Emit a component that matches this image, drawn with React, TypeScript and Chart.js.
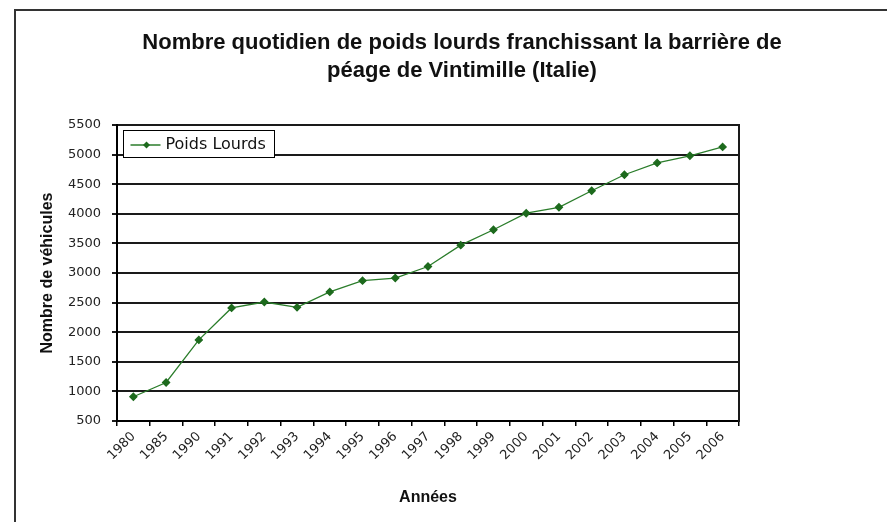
import { useEffect, useRef } from "react";
import { Chart, registerables } from "chart.js";

Chart.register(...registerables);

const titleLines = [
  "Nombre quotidien de poids lourds franchissant la barrière de",
  "péage de Vintimille (Italie)",
];
const years = [
  "1980", "1985", "1990", "1991", "1992", "1993", "1994", "1995", "1996", "1997",
  "1998", "1999", "2000", "2001", "2002", "2003", "2004", "2005", "2006",
];
const poidsLourds = [
  910, 1150, 1870, 2410, 2510, 2420, 2680, 2870, 2915, 3110,
  3470, 3730, 4010, 4110, 4390, 4660, 4860, 4980, 5130,
];
const seriesLabel = "Poids Lourds";
const yTitle = "Nombre de véhicules";
const xTitle = "Années";
const yMin = 500;
const yMax = 5500;
const yStep = 500;

const LINE_COLOR = "#2b7d2b";
const POINT_COLOR = "#1d6a1d";
const TICK_FONT = { family: "'DejaVu Sans', sans-serif", size: 13 };
const AXIS_TITLE_FONT = { family: "'Liberation Sans', Arial, sans-serif", size: 16, weight: "bold" as const };

const decor = {
  id: "decor",
  beforeDraw(chart: any) {
    const { ctx, width, height } = chart;
    ctx.save();
    ctx.fillStyle = "#fff";
    ctx.fillRect(0, 0, width, height);
    ctx.strokeStyle = "#333";
    ctx.lineWidth = 2;
    ctx.strokeRect(15, 10, width + 40, height + 40);
    ctx.restore();
  },
  afterDraw(chart: any) {
    const { ctx, chartArea: a } = chart;
    ctx.save();
    // right border of plot area
    ctx.strokeStyle = "#1a1a1a";
    ctx.lineWidth = 2;
    ctx.beginPath();
    ctx.moveTo(a.right, a.top - 1);
    ctx.lineTo(a.right, a.bottom + 1);
    ctx.stroke();

    // title
    ctx.fillStyle = "#111";
    ctx.font = "bold 22px 'Liberation Sans', Arial, sans-serif";
    ctx.textAlign = "center";
    ctx.textBaseline = "alphabetic";
    titleLines.forEach((t, i) => ctx.fillText(t, 462, 49 + i * 28));

    // legend inside plot area
    const ds = chart.data.datasets[0];
    ctx.font = "16px 'DejaVu Sans', sans-serif";
    const tw = ctx.measureText(ds.label).width;
    const x0 = Math.round(a.left + 6) + 0.5;
    const y0 = Math.round(a.top + 5) + 0.5;
    const h = 27;
    const w = Math.round(42 + tw + 9);
    ctx.fillStyle = "#fff";
    ctx.fillRect(x0, y0, w, h);
    ctx.strokeStyle = "#000";
    ctx.lineWidth = 1;
    ctx.strokeRect(x0, y0, w, h);
    const cy = y0 + h / 2 + 1;
    ctx.strokeStyle = ds.borderColor;
    ctx.lineWidth = 1.5;
    ctx.beginPath();
    ctx.moveTo(x0 + 7, cy);
    ctx.lineTo(x0 + 37, cy);
    ctx.stroke();
    ctx.fillStyle = ds.pointBackgroundColor;
    const mx = x0 + 23;
    const r = 3.5;
    ctx.beginPath();
    ctx.moveTo(mx, cy - r);
    ctx.lineTo(mx + r, cy);
    ctx.lineTo(mx, cy + r);
    ctx.lineTo(mx - r, cy);
    ctx.closePath();
    ctx.fill();
    ctx.fillStyle = "#111";
    ctx.textAlign = "left";
    ctx.textBaseline = "middle";
    ctx.fillText(ds.label, x0 + 42, cy);
    ctx.restore();
  },
};

export default function App() {
  const ref = useRef<HTMLCanvasElement>(null);

  useEffect(() => {
    const canvas = ref.current;
    if (!canvas) return;
    const chart = new Chart(canvas, {
      type: "line",
      data: {
        labels: years,
        datasets: [
          {
            label: seriesLabel,
            data: poidsLourds,
            borderColor: LINE_COLOR,
            backgroundColor: POINT_COLOR,
            pointBackgroundColor: POINT_COLOR,
            pointBorderColor: POINT_COLOR,
            pointStyle: "rectRot",
            pointRadius: 3.5,
            borderWidth: 1.3,
            tension: 0,
            fill: false,
          } as any,
        ],
      },
      options: {
        responsive: false,
        animation: false,
        devicePixelRatio: 1,
        layout: { padding: { top: 125, right: 148, left: 0, bottom: 0 } },
        plugins: {
          legend: { display: false },
          title: { display: false },
          tooltip: { enabled: false },
        },
        scales: {
          x: {
            type: "category",
            offset: true,
            grid: {
              display: true,
              drawOnChartArea: false,
              drawTicks: true,
              tickLength: 5,
              offset: true,
              color: "#000",
              lineWidth: 1.5,
            },
            border: { display: true, color: "#000", width: 2 },
            ticks: {
              autoSkip: false,
              maxRotation: 45,
              minRotation: 45,
              padding: 3,
              color: "#222",
              font: TICK_FONT,
            },
            title: {
              display: true,
              text: xTitle,
              color: "#111",
              font: AXIS_TITLE_FONT,
              padding: { top: 0, bottom: 14.6 },
            },
            afterFit(scale: any) {
              scale.height = 101;
            },
          },
          y: {
            min: yMin,
            max: yMax,
            grid: {
              color: "#1a1a1a",
              lineWidth: 2,
              drawTicks: true,
              tickLength: 5,
            },
            border: { display: true, color: "#000", width: 2 },
            ticks: {
              stepSize: yStep,
              padding: 11,
              color: "#222",
              font: TICK_FONT,
              callback: (v: any) => String(v),
            },
            title: {
              display: true,
              text: yTitle,
              color: "#111",
              font: AXIS_TITLE_FONT,
              padding: { top: 38, bottom: 0 },
            },
            afterFit(scale: any) {
              scale.width = 117;
            },
          },
        },
      },
      plugins: [decor],
    });
    return () => chart.destroy();
  }, []);

  return (
    <div style={{ position: "fixed", left: 0, top: 0, width: 887, height: 522, background: "#fff" }}>
      <canvas ref={ref} width={887} height={522} style={{ display: "block" }} />
    </div>
  );
}
